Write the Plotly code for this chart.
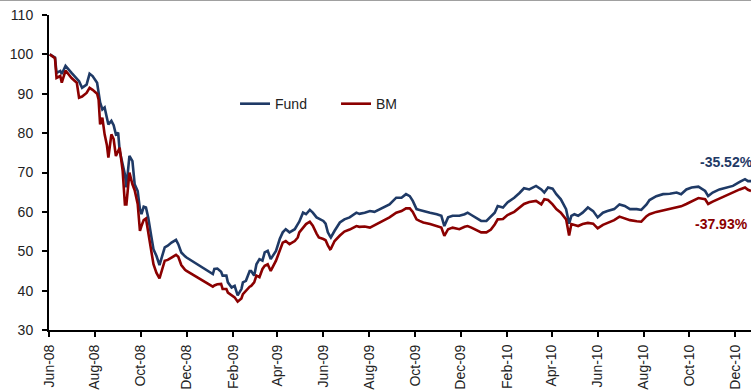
import plotly.graph_objects as go

# Indexed performance (start = 100)
dates = [
    "2008-06-02", "2008-06-06", "2008-06-09", "2008-06-11", "2008-06-16", "2008-06-18",
    "2008-06-23", "2008-07-01", "2008-07-08", "2008-07-11", "2008-07-15", "2008-07-21",
    "2008-07-25", "2008-07-29", "2008-08-04", "2008-08-06", "2008-08-08", "2008-08-11",
    "2008-08-14", "2008-08-17", "2008-08-19", "2008-08-23", "2008-08-26", "2008-08-29",
    "2008-09-01", "2008-09-03", "2008-09-07", "2008-09-10", "2008-09-12", "2008-09-16",
    "2008-09-20", "2008-09-23", "2008-09-27", "2008-09-30", "2008-10-02", "2008-10-05",
    "2008-10-08", "2008-10-11", "2008-10-15", "2008-10-18", "2008-10-22", "2008-10-26",
    "2008-11-02", "2008-11-06", "2008-11-11", "2008-11-17", "2008-11-20", "2008-11-24",
    "2008-11-29", "2008-12-01",
    "2009-01-05", "2009-01-07", "2009-01-11", "2009-01-16", "2009-01-18", "2009-01-23",
    "2009-01-25", "2009-01-30", "2009-02-03", "2009-02-07", "2009-02-12", "2009-02-14",
    "2009-02-18", "2009-02-23", "2009-02-25", "2009-03-01", "2009-03-04", "2009-03-08",
    "2009-03-12", "2009-03-15", "2009-03-19", "2009-03-23", "2009-03-30", "2009-04-04",
    "2009-04-08", "2009-04-12", "2009-04-17", "2009-04-24", "2009-04-28", "2009-04-30",
    "2009-05-05", "2009-05-09", "2009-05-14", "2009-05-18", "2009-05-23", "2009-05-26",
    "2009-06-01", "2009-06-04", "2009-06-07", "2009-06-10", "2009-06-11", "2009-06-16",
    "2009-06-23", "2009-06-29", "2009-07-06", "2009-07-15", "2009-07-19", "2009-07-26",
    "2009-08-02", "2009-08-08", "2009-08-20", "2009-08-28", "2009-09-06", "2009-09-13",
    "2009-09-19", "2009-09-24", "2009-09-28", "2009-10-03", "2009-10-07", "2009-10-12",
    "2009-10-21", "2009-10-30", "2009-11-05", "2009-11-09", "2009-11-14", "2009-11-20",
    "2009-11-29", "2009-12-06", "2009-12-10", "2009-12-15", "2009-12-21", "2009-12-28",
    "2010-01-04", "2010-01-10", "2010-01-15", "2010-01-19", "2010-01-26", "2010-02-01",
    "2010-02-10", "2010-02-17", "2010-02-23", "2010-03-02", "2010-03-11", "2010-03-18",
    "2010-03-22", "2010-03-27", "2010-04-02", "2010-04-07", "2010-04-13", "2010-04-20",
    "2010-04-24", "2010-04-27", "2010-05-01", "2010-05-06", "2010-05-12", "2010-05-19",
    "2010-05-26", "2010-06-01", "2010-06-08", "2010-06-14", "2010-06-23", "2010-06-30",
    "2010-07-07", "2010-07-14", "2010-07-23", "2010-07-29", "2010-08-05", "2010-08-09",
    "2010-08-18", "2010-08-27", "2010-09-05", "2010-09-14", "2010-09-20", "2010-09-27",
    "2010-10-04", "2010-10-13", "2010-10-22", "2010-10-26", "2010-11-01", "2010-11-10",
    "2010-11-19", "2010-11-28", "2010-12-07", "2010-12-14", "2010-12-18", "2010-12-22",
]

fund = [
    100.0, 99.6, 99.2, 95.3, 95.8, 95.0,
    97.1, 95.3, 94.0, 93.2, 91.5, 92.3,
    95.1, 94.5, 92.8, 90.7, 87.8, 86.0,
    86.5, 83.9, 82.2, 83.1, 82.0, 79.7,
    80.1, 75.5, 72.5, 69.5, 66.2, 74.2,
    72.9, 67.0, 65.3, 60.7, 59.4, 61.3,
    61.1, 58.6, 53.9, 50.5, 48.8, 46.5,
    51.0, 51.4, 52.2, 52.9, 51.8, 49.7,
    48.7, 48.4,
    44.2, 45.5, 45.6, 44.8, 43.8, 43.8,
    42.1, 40.8, 41.2, 38.8, 40.4, 42.1,
    42.5, 45.0, 45.0, 43.8, 46.7, 48.0,
    47.6, 49.7, 50.1, 48.0, 50.1, 53.1,
    54.8, 55.6, 54.8, 55.6, 56.9, 57.5,
    59.8, 59.4, 60.5, 59.8, 58.6, 58.3,
    57.7, 57.0, 54.8, 53.8, 53.5, 55.2,
    57.3, 58.1, 58.6, 59.8, 59.5, 59.8,
    60.2, 60.0, 61.1, 61.9, 63.6, 63.6,
    64.5, 64.0, 62.8, 60.7, 60.5, 60.2,
    59.8, 59.4, 59.0, 56.4, 58.6, 59.0,
    59.0, 59.4, 59.8, 59.2, 58.6, 57.7,
    57.7, 59.0, 59.8, 61.5, 61.1, 62.4,
    63.6, 64.8, 66.0, 65.7, 66.6, 65.7,
    64.9, 66.2, 65.9, 64.5, 63.2, 60.7,
    57.0, 59.0, 59.4, 59.0, 59.8, 61.1,
    60.2, 58.6, 59.8, 60.2, 60.7, 61.9,
    61.5, 60.7, 60.7, 60.5, 61.9, 63.0,
    64.0, 64.5, 64.6, 64.9, 64.5, 65.7,
    66.2, 66.4, 65.3, 64.0, 64.9, 65.7,
    66.2, 66.6, 67.6, 68.3, 67.8, 67.8,
]

bm = [
    100.0, 99.5, 99.0, 94.0, 94.5, 92.8,
    95.9, 94.0, 92.8, 89.0, 89.3, 90.2,
    91.5, 91.0, 90.0, 88.5, 82.2, 83.9,
    79.7, 77.0, 73.8, 79.7, 78.5, 74.2,
    75.5, 76.3, 70.4, 61.9, 61.9, 70.0,
    67.0, 65.5, 62.0, 55.2, 56.4, 57.9,
    58.3, 55.0, 50.0, 46.7, 44.5, 43.1,
    47.6, 47.8, 48.4, 49.1, 48.6, 46.5,
    45.3, 45.0,
    41.0, 41.3, 41.6, 41.7, 40.4, 40.4,
    39.5, 38.7, 38.3, 37.2, 38.0, 39.1,
    40.0, 41.0, 41.2, 42.1, 43.8, 43.4,
    45.5, 46.3, 46.7, 45.0, 47.6, 50.1,
    52.2, 52.6, 51.8, 52.6, 53.5, 54.8,
    56.0, 56.9, 57.5, 56.5, 54.5, 53.5,
    53.1, 52.8, 51.5, 50.5, 50.6, 52.6,
    54.0, 55.0, 55.5, 56.4, 56.2, 56.3,
    56.0, 56.6, 57.7, 58.6, 59.8, 60.2,
    60.9, 60.9, 60.0, 58.1, 57.7, 57.3,
    56.9, 56.4, 56.0, 53.9, 55.6, 56.0,
    55.6, 56.2, 56.4, 56.0, 55.5, 54.8,
    54.8, 55.5, 56.8, 58.1, 58.2, 59.2,
    60.0, 61.1, 62.0, 62.5, 62.8, 61.9,
    63.2, 63.0, 61.9, 60.7, 59.8, 58.1,
    54.0, 56.9, 56.6, 56.4, 56.9, 57.2,
    57.0, 55.8, 56.7, 57.2, 57.9, 58.8,
    58.4, 57.9, 57.6, 57.5, 58.9, 59.4,
    60.0, 60.4, 60.8, 61.2, 61.4, 62.0,
    62.6, 63.5, 63.2, 62.0, 62.6, 63.4,
    64.0, 64.9, 65.7, 66.2, 65.6, 65.3,
]

series_names = ["Fund", "BM"]
series_colors = ["#1F3A66", "#8B0000"]
end_labels = ["-35.52%", "-37.93%"]

FONT = "Liberation Sans, Arial, sans-serif"

fig = go.Figure()
for name, vals, col in zip(series_names, [fund, bm], series_colors):
    fig.add_trace(go.Scatter(
        x=dates, y=vals, mode="lines", name=name,
        line=dict(color=col, width=2.6),
    ))

# Cumulative return labels at the right end
fig.add_annotation(x=0.9245, y=0.533, xref="paper", yref="paper",
                   text=end_labels[0], showarrow=False, xanchor="left", yanchor="middle",
                   font=dict(family=FONT, size=14, color=series_colors[0], weight="bold"))
fig.add_annotation(x=0.9175, y=0.3365, xref="paper", yref="paper",
                   text=end_labels[1], showarrow=False, xanchor="left", yanchor="middle",
                   font=dict(family=FONT, size=14, color=series_colors[1], weight="bold"))

# thin grey frame line along the top of the chart
fig.add_shape(type="line", xref="paper", yref="paper",
              x0=-0.1, x1=1.1, y0=1.0476, y1=1.0476,
              line=dict(color="#808080", width=1.5))

fig.update_layout(
    width=751, height=390,
    margin=dict(l=49, r=0, t=15, b=60),
    paper_bgcolor="white", plot_bgcolor="white",
    font=dict(family=FONT, size=14, color="#222222"),
    showlegend=True,
    legend=dict(orientation="h", x=0.265, y=0.768, xanchor="left", yanchor="top",
                bgcolor="rgba(0,0,0,0)", font=dict(size=14, color="#222222"),
                entrywidth=56, entrywidthmode="pixels"),
    xaxis=dict(
        type="date", range=["2008-06-01", "2010-12-22"],
        tickformat="%b-%y", dtick="M2", tick0="2008-06-01",
        tickangle=-90, ticks="outside", ticklen=5, tickwidth=1.5, tickcolor="black",
        showline=True, linecolor="black", linewidth=2,
        showgrid=False, zeroline=False, automargin=False,
        tickfont=dict(size=14, color="#222222"),
        ticklabelstandoff=2,
    ),
    yaxis=dict(
        range=[30, 110], dtick=10, tick0=30,
        ticks="outside", ticklen=5, tickwidth=1.5, tickcolor="black",
        showline=True, linecolor="black", linewidth=2,
        showgrid=False, zeroline=False, automargin=False,
        tickfont=dict(size=14, color="#222222"),
        ticklabelstandoff=6,
    ),
)

fig.write_html("out.html")
